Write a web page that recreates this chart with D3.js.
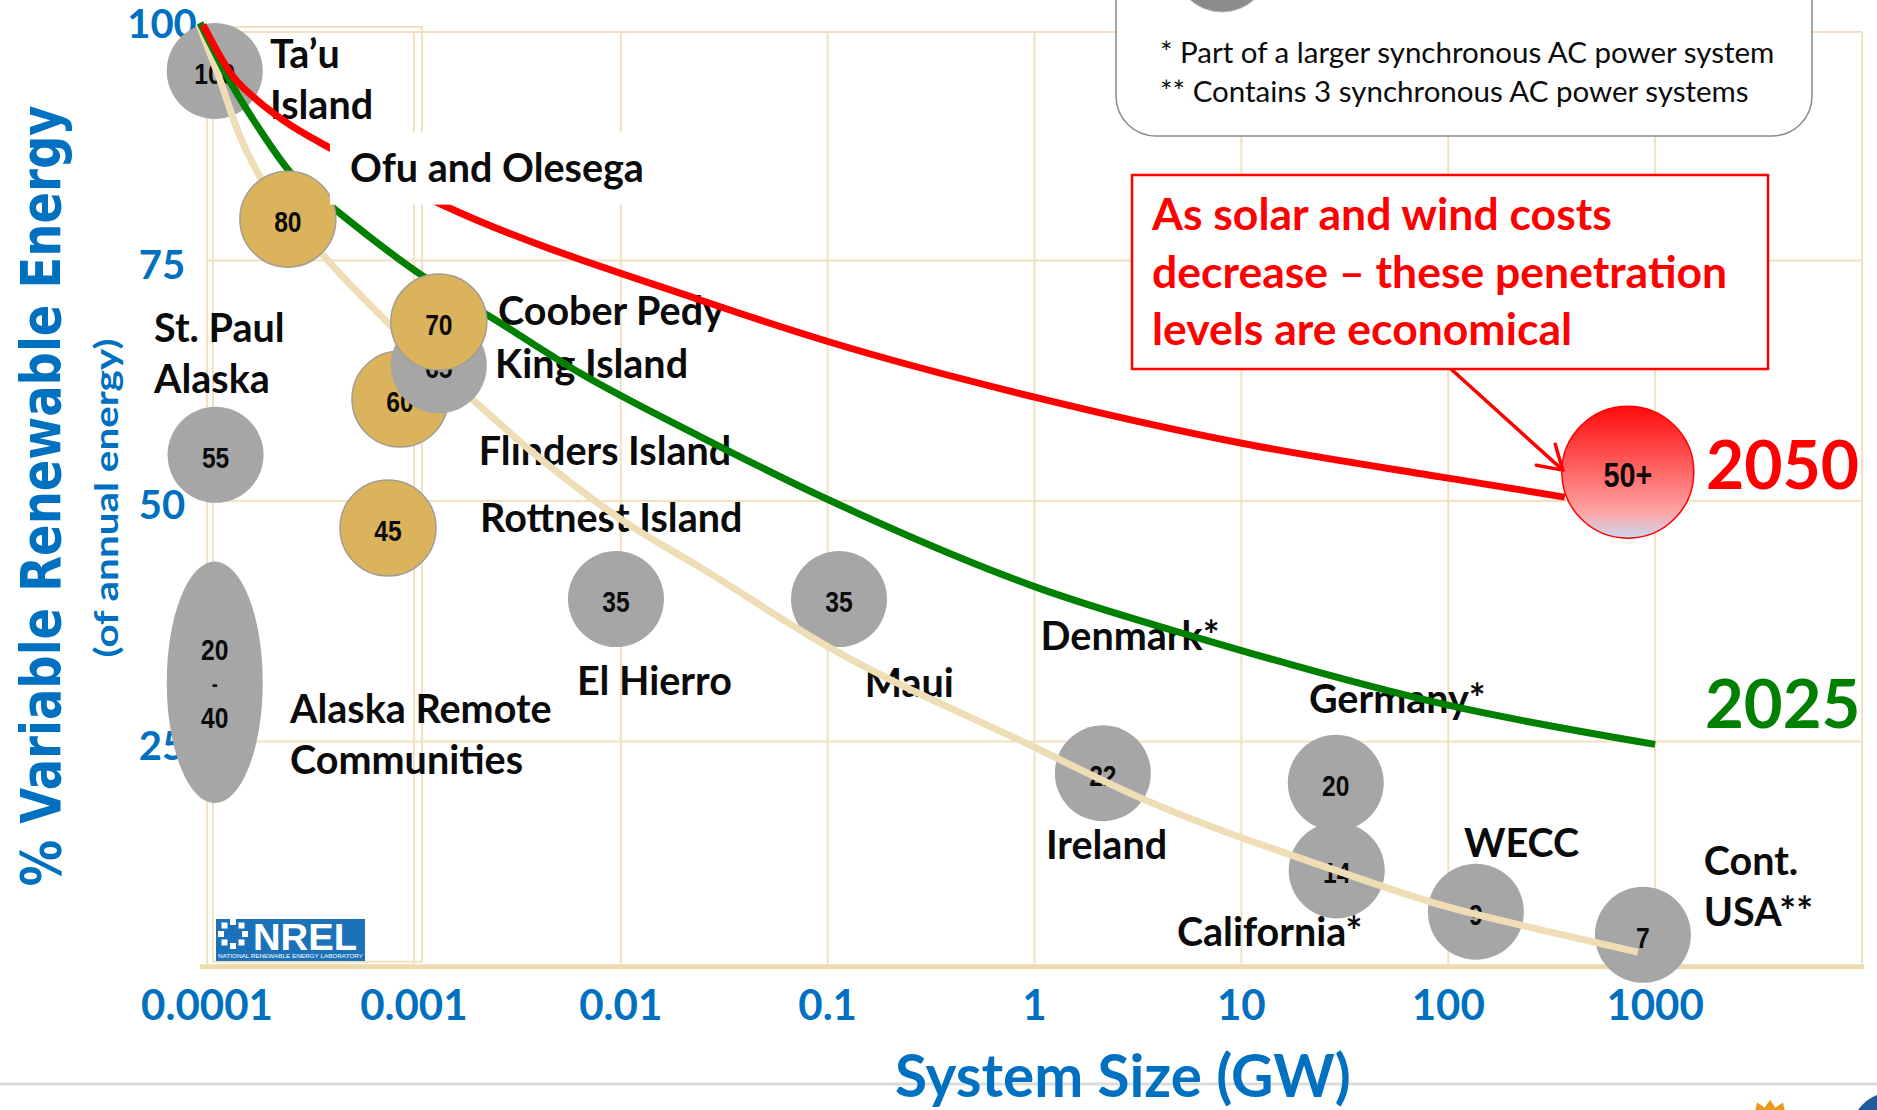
<!DOCTYPE html>
<html>
<head>
<meta charset="utf-8">
<script src="https://cdn.jsdelivr.net/npm/d3@7"></script>
<style>
html,body{margin:0;padding:0;background:#ffffff;overflow:hidden;}
svg{display:block;}
</style>
</head>
<body>
<svg id="chart" width="1877" height="1110" xmlns="http://www.w3.org/2000/svg"></svg>
<script>
// ================= DATA =================
const xTickValues = [0.0001, 0.001, 0.01, 0.1, 1, 10, 100, 1000];
const xTickLabels = ["0.0001", "0.001", "0.01", "0.1", "1", "10", "100", "1000"];
const yTickValues = [100, 75, 50, 25];
const yTickLabels = ["100", "75", "50", "25"];

// power systems (bubbles): size in GW, vertical position in % VRE, share label
const systemNames = ["Ta’u Island", "Ofu and Olesega", "Coober Pedy", "King Island", "Flinders Island",
  "St. Paul Alaska", "Rottnest Island", "Alaska Remote Communities", "El Hierro", "Maui",
  "Ireland", "Germany*", "California*", "WECC", "Cont. USA**"];
const systemGW = [0.000109, 0.000246, 0.00132, 0.00132, 0.000857,
  0.000110, 0.00075, 0.000109, 0.00948, 0.1135,
  2.14, 28.6, 28.9, 136, 873];
const systemPct = [94.7, 79.3, 68.6, 64.1, 60.6,
  54.8, 47.2, 31.1, 39.8, 39.8,
  21.7, 20.7, 11.6, 7.3, 4.9];
const systemShare = ["100", "80", "70", "65", "60", "55", "45", "20–40", "35", "35", "22", "20", "14", "9", "7"];
const systemGroup = ["grey", "gold", "gold", "grey", "gold", "grey", "gold", "grey", "grey", "grey", "grey", "grey", "grey", "grey", "grey"];
// Alaska Remote Communities spans a range of the y axis
const rangeSystem = "Alaska Remote Communities";
const rangePct = [18.6, 43.7];

// 2050 target bubble
const targetName = "2050";
const targetGW = 738;
const targetPct = 53.0;
const targetShare = "50+";

// curves
const curve2050GW = [0.0000957, 0.000134, 0.000174, 0.000233, 0.000393, 0.00137, 0.0242, 0.107, 1.0, 10.06, 98.4, 366];
const curve2050Pct = [99.5, 94.1, 91.7, 89.6, 86.7, 80.8, 70.9, 66.4, 60.8, 56.0, 52.4, 50.4];
const curve2025GW = [0.0000925, 0.000134, 0.000180, 0.000252, 0.000416, 0.00112, 0.00236, 0.00635, 0.0242, 0.1015, 1.0, 6.59, 98.4, 1000];
const curve2025Pct = [99.7, 93.0, 88.6, 84.2, 80.3, 73.3, 69.1, 63.3, 56.7, 50.1, 41.1, 35.6, 28.8, 24.7];
const curveTodayGW = [0.0000915, 0.000118, 0.000140, 0.000180, 0.000356, 0.000793, 0.00193, 0.00364, 0.0105, 0.0242, 0.1015, 1.0, 3.13, 28.6, 99.6, 324, 825];
const curveTodayPct = [99.5, 93.2, 88.6, 83.7, 75.8, 68.0, 60.5, 55.3, 47.8, 43.1, 34.8, 24.4, 19.3, 11.6, 7.8, 5.1, 3.1];

// name labels: text lines, anchor (GW, %) of the first line's left baseline
const labelLines = [["Ta’u", "Island"], ["Coober Pedy"], ["King Island"], ["St. Paul", "Alaska"],
  ["Flinders Island"], ["Rottnest Island"], ["El Hierro"], ["Alaska Remote", "Communities"], ["Maui"],
  ["Denmark*"], ["Germany*"], ["Ireland"], ["California*"], ["WECC"], ["Cont.", "USA**"]];
const labelGW = [0.0002016, 0.00255, 0.00247, 0.0000555, 0.00206, 0.00209, 0.00614, 0.000252, 0.151,
  1.07, 21.2, 1.135, 4.88, 119, 1718];
const labelPct = [95.0, 68.3, 62.8, 66.5, 53.7, 46.8, 29.8, 26.9, 29.6, 34.5, 28.0, 12.8, 3.7, 13.0, 11.1];
// boxed label (white background)
const boxedLabel = "Ofu and Olesega";
const boxedLabelGW = 0.000491;
const boxedLabelPct = 83.2;

const legendNotes = ["* Part of a larger synchronous AC power system", "** Contains 3 synchronous AC power systems"];
const calloutLines = ["As solar and wind costs", "decrease – these penetration", "levels are economical"];

// ================= LAYOUT / STYLE =================
const W = 1877, H = 1110;
const BLUE = "#0070C0", RED = "#FF0000", GREEN = "#008000", TAN = "#EFDDB5", GRID = "#F1E1BF";
const GREY = "#A6A6A6", GOLD = "#DBB35C", INK = "#0B0B0B";
const BOLD = "'Lato', 'Open Sans', sans-serif";
const NUMF = "'Liberation Sans', Arial, sans-serif";
const LABEL_SIZE = 39.5;
const R = 48, R_TARGET = 66;
const frameTop = 98.75, frameBottom = 1.9;

const svg = d3.select("#chart");
const x = d3.scaleLog().domain([1e-4, 1e4]).range([207, 1862]);
const y = d3.scaleLinear().domain([0, 100]).range([982, 20]);

function squeeze(sel, k) {
  sel.each(function () {
    const len = this.getComputedTextLength();
    d3.select(this).attr("textLength", len * k).attr("lengthAdjust", "spacingAndGlyphs");
  });
  return sel;
}

const defs = svg.append("defs");
const gr = defs.append("linearGradient").attr("id", "g2050").attr("x1", 0).attr("y1", 0).attr("x2", 0).attr("y2", 1);
[[0, "#FF0A0A"], [0.45, "#FF5E5E"], [0.8, "#FFA3A3"], [1, "#C9D9F0"]].forEach(s =>
  gr.append("stop").attr("offset", s[0]).attr("stop-color", s[1]));
const gl = defs.append("linearGradient").attr("id", "gLegend").attr("x1", 0).attr("y1", 0).attr("x2", 0).attr("y2", 1);
[[0, "#6E6E6E"], [1, "#8E8E8E"]].forEach(s => gl.append("stop").attr("offset", s[0]).attr("stop-color", s[1]));

// ----- grid -----
const decades = [1e-4, 1e-3, 1e-2, 1e-1, 1, 10, 100, 1000, 1e4];
const grid = svg.append("g").attr("stroke", GRID).attr("stroke-width", 2).attr("fill", "none");
grid.selectAll("line.v").data(decades).join("line")
  .attr("x1", d => x(d)).attr("x2", d => x(d))
  .attr("y1", y(frameTop)).attr("y2", y(frameBottom));
grid.selectAll("line.h").data([25, 50, 75, frameTop]).join("line")
  .attr("x1", x(1e-4)).attr("x2", x(1e4))
  .attr("y1", d => y(d)).attr("y2", d => y(d));
grid.append("rect")
  .attr("x", x(1e-4) + 6).attr("y", y(frameTop) - 5)
  .attr("width", x(1e-3) - x(1e-4) + 2).attr("height", y(frameBottom) - y(frameTop) + 3);
svg.append("line").attr("x1", x(1e-4) - 7).attr("x2", x(1e4) + 2)
  .attr("y1", y(frameBottom) + 3).attr("y2", y(frameBottom) + 3)
  .attr("stroke", "#EEDAB0").attr("stroke-width", 5);

// slide separator
svg.append("line").attr("x1", 0).attr("x2", W).attr("y1", 1084).attr("y2", 1084)
  .attr("stroke", "#DCDCDC").attr("stroke-width", 3);

// ----- axes labels -----
svg.append("g").selectAll("text").data(xTickValues).join("text")
  .attr("x", d => x(d)).attr("y", 1020).attr("text-anchor", "middle")
  .attr("font-family", BOLD).attr("font-weight", 700).attr("font-size", 42).attr("fill", BLUE)
  .text((d, i) => xTickLabels[i]);
svg.append("g").selectAll("text").data(yTickValues).join("text")
  .attr("x", 162).attr("y", d => y(d) + 4).attr("dy", "0.36em").attr("text-anchor", "middle")
  .attr("font-family", BOLD).attr("font-weight", 700).attr("font-size", 40).attr("fill", BLUE)
  .text((d, i) => yTickLabels[i]);

svg.append("text").attr("x", 895).attr("y", 1097)
  .attr("font-family", BOLD).attr("font-weight", 700).attr("font-size", 58.5).attr("fill", BLUE)
  .text("System Size (GW)");

svg.append("text").attr("transform", "translate(60,496) rotate(-90)").attr("text-anchor", "middle")
  .attr("font-family", "'DejaVu Sans', Verdana, sans-serif").attr("font-weight", 700).attr("font-size", 55)
  .attr("fill", BLUE).attr("textLength", 781).attr("lengthAdjust", "spacingAndGlyphs")
  .text("% Variable Renewable Energy");
svg.append("text").attr("transform", "translate(118,498) rotate(-90)").attr("text-anchor", "middle")
  .attr("font-family", BOLD).attr("font-weight", 700).attr("font-size", 33)
  .attr("fill", BLUE).attr("textLength", 319).attr("lengthAdjust", "spacingAndGlyphs")
  .text("(of annual energy)");

// ----- NREL logo -----
const logo = svg.append("g");
logo.append("rect").attr("x", 216).attr("y", 919).attr("width", 149).attr("height", 42).attr("fill", "#1C72B8");
d3.range(8).forEach(i => {
  const a = i * Math.PI / 4;
  logo.append("rect").attr("x", 233 + 12 * Math.cos(a) - 3).attr("y", 934 + 12 * Math.sin(a) - 3)
    .attr("width", 6).attr("height", 6).attr("fill", "#fff");
});
logo.append("text").attr("x", 253).attr("y", 950).attr("font-family", NUMF).attr("font-weight", 700)
  .attr("font-size", 36).attr("fill", "#fff").attr("textLength", 104).attr("lengthAdjust", "spacingAndGlyphs").text("NREL");
logo.append("text").attr("x", 218).attr("y", 958).attr("font-family", NUMF)
  .attr("font-size", 5).attr("fill", "#fff").attr("textLength", 145).attr("lengthAdjust", "spacingAndGlyphs")
  .text("NATIONAL RENEWABLE ENERGY LABORATORY");

// ----- bubbles -----
const systems = systemNames.map((n, i) => ({ name: n, gw: systemGW[i], pct: systemPct[i], share: systemShare[i], group: systemGroup[i] }));
function drawBubbles(layer, list) {
  const g = layer.selectAll("g").data(list).join("g");
  g.each(function (d) {
    const s = d3.select(this);
    const cx = x(d.gw);
    if (d.name === rangeSystem) {
      const y1 = y(rangePct[1]), y2 = y(rangePct[0]);
      s.append("ellipse").attr("cx", cx).attr("cy", (y1 + y2) / 2).attr("rx", R).attr("ry", (y2 - y1) / 2)
        .attr("fill", GREY);
      const parts = d.share.split("–");
      const cy = (y1 + y2) / 2;
      [[parts[0], -33, 30], ["-", 1, 22], [parts[1], 35, 30]].forEach(p => {
        squeeze(s.append("text").attr("x", cx).attr("y", cy + p[1]).attr("dy", "0.36em").attr("text-anchor", "middle")
          .attr("font-family", NUMF).attr("font-weight", 700).attr("font-size", p[2])
          .attr("fill", INK).text(p[0]), 0.82);
      });
    } else {
      s.append("circle").attr("cx", cx).attr("cy", y(d.pct)).attr("r", R)
        .attr("fill", d.group === "gold" ? GOLD : GREY)
        .attr("stroke", d.group === "gold" ? "#A39D92" : "none").attr("stroke-width", 1.5);
      squeeze(s.append("text").attr("x", cx).attr("y", y(d.pct) + 2).attr("dy", "0.36em").attr("text-anchor", "middle")
        .attr("font-family", NUMF).attr("font-weight", 700).attr("font-size", 30).attr("fill", INK)
        .text(d.share), 0.82);
    }
  });
}
const underOrder = ["Ta’u Island", "St. Paul Alaska", "Alaska Remote Communities", "El Hierro", "Maui", "Ireland", "Germany*", "California*", "WECC", "Cont. USA**"];
drawBubbles(svg.append("g"), underOrder.map(n => systems.find(s => s.name === n)));

// ----- name labels -----
const labels = svg.append("g").attr("font-family", BOLD).attr("font-weight", 700).attr("font-size", LABEL_SIZE).attr("fill", INK);
labelLines.forEach((lines, i) => {
  lines.forEach((t, j) => {
    labels.append("text").attr("x", x(labelGW[i])).attr("y", y(labelPct[i]) + j * 51).text(t);
  });
});

// ----- curves -----
const line = d3.line().x(d => x(d[0])).y(d => y(d[1])).curve(d3.curveMonotoneX);
const curves = [
  { gw: curveTodayGW, pct: curveTodayPct, color: TAN },
  { gw: curve2025GW, pct: curve2025Pct, color: GREEN },
  { gw: curve2050GW, pct: curve2050Pct, color: RED }
];
svg.append("g").selectAll("path").data(curves).join("path")
  .attr("d", c => line(c.gw.map((g, i) => [g, c.pct[i]])))
  .attr("fill", "none").attr("stroke", c => c.color).attr("stroke-width", 7).attr("stroke-linecap", "butt");

// ----- bubbles above curves -----
const overOrder = ["Rottnest Island", "Flinders Island", "King Island", "Coober Pedy", "Ofu and Olesega"];
drawBubbles(svg.append("g"), overOrder.map(n => systems.find(s => s.name === n)));

// boxed label
const bl = svg.append("g");
const blRect = bl.append("rect").attr("fill", "#fff");
const blText = bl.append("text").attr("x", x(boxedLabelGW)).attr("y", y(boxedLabelPct))
  .attr("font-family", BOLD).attr("font-weight", 700).attr("font-size", LABEL_SIZE).attr("fill", INK).text(boxedLabel);
const bb = blText.node().getBBox();
blRect.attr("x", bb.x - 20).attr("y", y(boxedLabelPct) - 49).attr("width", bb.width + 30).attr("height", 72);

// ----- 2050 target -----
svg.append("circle").attr("cx", x(targetGW)).attr("cy", y(targetPct)).attr("r", R_TARGET)
  .attr("fill", "url(#g2050)").attr("stroke", RED).attr("stroke-width", 1.5);
squeeze(svg.append("text").attr("x", x(targetGW)).attr("y", y(targetPct) + 2).attr("dy", "0.36em")
  .attr("text-anchor", "middle").attr("font-family", NUMF).attr("font-weight", 700).attr("font-size", 35)
  .attr("fill", INK).text(targetShare), 0.82);

svg.append("text").attr("x", 1706).attr("y", 489).attr("font-family", BOLD).attr("font-weight", 700)
  .attr("font-size", 66).attr("fill", RED).text("2050");
svg.append("text").attr("x", 1705).attr("y", 728).attr("font-family", BOLD).attr("font-weight", 700)
  .attr("font-size", 67).attr("fill", GREEN).text("2025");

// ----- callout box + arrow -----
svg.append("rect").attr("x", 1132).attr("y", 175).attr("width", 636).attr("height", 194)
  .attr("fill", "#fff").attr("stroke", RED).attr("stroke-width", 2.5);
calloutLines.forEach((t, i) => {
  svg.append("text").attr("x", 1152).attr("y", 230 + i * 57.5).attr("font-family", BOLD).attr("font-weight", 700)
    .attr("font-size", 44.5).attr("fill", RED).text(t);
});
const ax0 = 1451, ay0 = 369, ax1 = x(targetGW) - R_TARGET + 1, ay1 = y(targetPct) - 2;
svg.append("line").attr("x1", ax0).attr("y1", ay0).attr("x2", ax1).attr("y2", ay1)
  .attr("stroke", RED).attr("stroke-width", 3.5);
const ang = Math.atan2(ay1 - ay0, ax1 - ax0);
[0.55, -0.55].forEach(da => {
  svg.append("line").attr("x1", ax1).attr("y1", ay1)
    .attr("x2", ax1 - 27 * Math.cos(ang + da)).attr("y2", ay1 - 27 * Math.sin(ang + da))
    .attr("stroke", RED).attr("stroke-width", 3.5).attr("stroke-linecap", "round");
});

// ----- legend (partially off the top) -----
const lg = svg.append("g");
lg.append("rect").attr("x", 1116).attr("y", -80).attr("width", 696).attr("height", 216).attr("rx", 40)
  .attr("fill", "#fff").attr("stroke", "#8C8C8C").attr("stroke-width", 1.5);
lg.append("circle").attr("cx", 1222).attr("cy", -36).attr("r", 48).attr("fill", "url(#gLegend)").attr("stroke", "#B5B5B5");
legendNotes.forEach((t, i) => {
  lg.append("text").attr("x", 1160).attr("y", 63 + i * 39).attr("font-family", BOLD).attr("font-weight", 400)
    .attr("font-size", 29.5).attr("fill", INK).text(t);
});

// ----- partial logos bottom right -----
const sun = svg.append("g");
const spikes = d3.range(32).map(i => {
  const a = i * Math.PI / 16, rr = i % 2 ? 27 : 34;
  return [1770 + rr * Math.cos(a), 1134 + rr * Math.sin(a)];
});
sun.append("path").attr("d", "M" + spikes.join("L") + "Z").attr("fill", "#E59C1E");
svg.append("path").attr("d", "M1858,1110 Q1866,1099 1877,1095 L1877,1110 Z").attr("fill", "#1F5A9C");
</script>
</body>
</html>
